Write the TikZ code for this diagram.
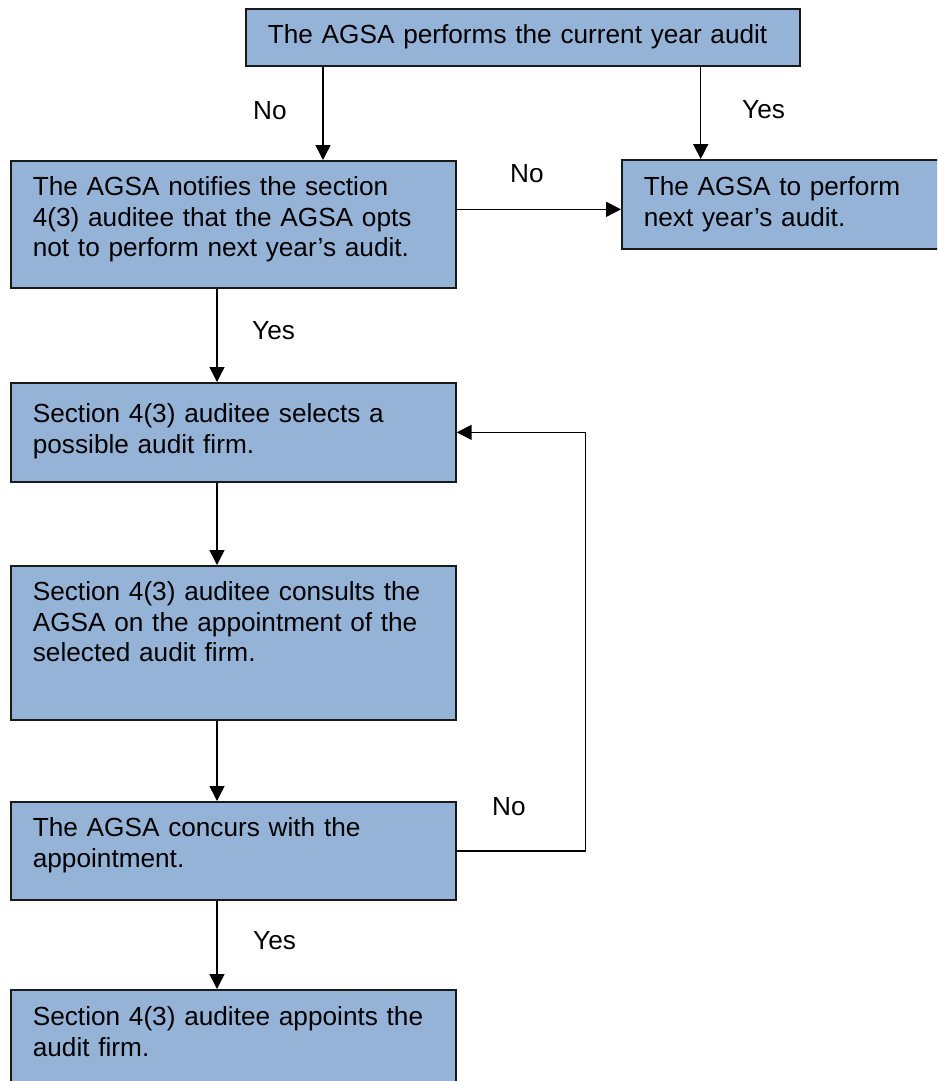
\documentclass[tikz,border=0pt]{standalone}
\usepackage{fontspec}
\setmainfont{Liberation Sans}
\usetikzlibrary{arrows.meta,positioning}
\definecolor{boxblue}{RGB}{149,179,215}

\begin{document}
\begin{tikzpicture}[x=1pt,y=-1pt,
  font=\fontsize{26.2}{30.5}\selectfont,
  stepbox/.style={draw=black!90,line width=1.7pt,fill=boxblue,anchor=north west,
    align=left,inner xsep=22pt,inner ysep=0pt,text height=35pt},
  flow/.style={line width=1.5pt,-{Triangle[length=15pt,width=15pt]}},
  lbl/.style={anchor=base west,inner sep=0pt}]
\clip (0,0) rectangle (937,1081);

% boxes
\node[stepbox,text width=510pt,text depth=22pt] (audit) at (245,8)
  {The AGSA performs the current year audit};
\node[stepbox,text width=335pt,text height=36pt,text depth=53pt] (perform) at (621,159)
  {The AGSA to perform\\next year’s audit.};
\node[stepbox,text width=401pt,text depth=92pt] (notify) at (10,160)
  {The AGSA notifies the section\\4(3) auditee that the AGSA opts\\not to perform next year’s audit.};
\node[stepbox,text width=401pt,text height=40pt,text depth=59pt] (select) at (10,382)
  {Section 4(3) auditee selects a\\possible audit firm.};
\node[stepbox,text width=401pt,text depth=119pt] (consult) at (10,565)
  {Section 4(3) auditee consults the\\AGSA on the appointment of the\\selected audit firm.};
\node[stepbox,text width=401pt,text depth=63pt] (concur) at (10,801)
  {The AGSA concurs with the\\appointment.};
\node[stepbox,text width=401pt,text height=36pt,text depth=110pt] (appoint) at (10,989)
  {Section 4(3) auditee appoints the\\audit firm.};

% top branches
\coordinate (noarm) at ([xshift=78pt]audit.south west);
\coordinate (yesarm) at ([xshift=-100pt]audit.south east);
\draw[flow] (noarm) -- (noarm |- notify.north);
\draw[flow] (yesarm) -- (yesarm |- perform.north);
\coordinate (noexit) at ([yshift=15pt]notify.east);
\draw[flow] (noexit) -- (noexit -| perform.west);

% left column
\coordinate (spine) at (217,0);
\foreach \a/\b in {notify/select,select/consult,consult/concur,concur/appoint}
  \draw[flow] (\a.south -| spine) -- (\b.north -| spine);

% back to selection
\draw[flow] (concur.east) -- ++(129,0) |- (select.east);

% labels
\node[lbl] (topno) at (253,119) {No};
\node[lbl] (topyes) at (742,118) {Yes};
\node[lbl] (sideno) at (510,182) {No};
\node[lbl] (notifyyes) at (252,339) {Yes};
\node[lbl] (loopno) at (492,815) {No};
\node[lbl] (concuryes) at (253,949) {Yes};
\end{tikzpicture}
\end{document}
